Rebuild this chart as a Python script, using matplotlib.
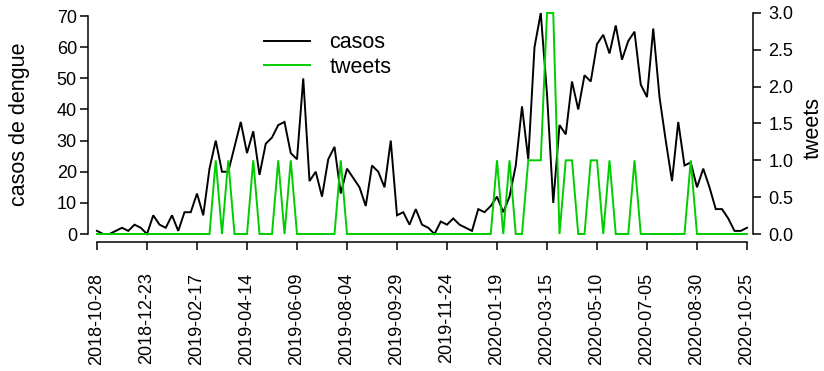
import matplotlib
matplotlib.use("Agg")
import matplotlib.pyplot as plt
from matplotlib.lines import Line2D

plt.rcParams['font.family'] = ['Liberation Sans', 'DejaVu Sans']

# weekly series starting 2018-10-28 (105 weeks)
casos = [1, 0, 0, 1, 2, 1, 3, 2, 0, 6,
         3, 2, 6, 1, 7, 7, 13, 6, 21, 30,
         20, 20, 28, 36, 26, 33, 19, 29, 31, 35,
         36, 26, 24, 50, 17, 20, 12, 24, 28, 13,
         21, 18, 15, 9, 22, 20, 15, 30, 6, 7,
         3, 8, 3, 2, 0, 4, 3, 5, 3, 2,
         1, 8, 7, 9, 12, 7, 12, 22, 41, 24,
         60, 71, 45, 10, 35, 32, 49, 40, 51, 49,
         61, 64, 58, 67, 56, 62, 65, 48, 44, 66,
         44, 30, 17, 36, 22, 23, 15, 21, 15, 8,
         8, 5, 1, 1, 2]
tweets = [0] * 105
tweet_weeks = [19, 21, 25, 29, 31, 39, 64, 66, 69, 70, 71, 72, 73, 75, 76, 79, 80, 82, 86, 95]
tweet_counts = [1, 1, 1, 1, 1, 1, 1, 1, 1, 1, 1, 3, 3, 1, 1, 1, 1, 1, 1, 1]
for w, c in zip(tweet_weeks, tweet_counts):
    tweets[w] = c

tick_weeks = list(range(0, 105, 8))
tick_labels = ["2018-10-28", "2018-12-23", "2019-02-17", "2019-04-14", "2019-06-09",
               "2019-08-04", "2019-09-29", "2019-11-24", "2020-01-19", "2020-03-15",
               "2020-05-10", "2020-07-05", "2020-08-30", "2020-10-25"]
left_ticks = [0, 10, 20, 30, 40, 50, 60, 70]
right_ticks = [0.0, 0.5, 1.0, 1.5, 2.0, 2.5, 3.0]

W, H = 824, 371
fig = plt.figure(figsize=(W / 100, H / 100), dpi=100)
ax = fig.add_axes([88 / W, (H - 242) / H, 665 / W, 237 / H])
ax2 = ax.twinx()

weeks = list(range(len(casos)))
GREEN = '#00CD00'
ax.plot(weeks, casos, color='black', lw=1.4, solid_joinstyle='miter')
ax2.plot(weeks, tweets, color=GREEN, lw=1.4, solid_joinstyle='miter')

ax.set_xlim(-1.44, 104.96)
ax.set_ylim(-8 / 3.113, 71 + 8 / 3.113)
ax2.set_ylim(-8 / 73.67, 3 + 8 / 73.67)

FS = 13
LFS = 15.5
for a in (ax, ax2):
    a.patch.set_visible(False)
    a.spines['top'].set_visible(False)
ax.spines['right'].set_visible(False)
for s in ('left', 'bottom'):
    ax2.spines[s].set_visible(False)

ax.spines['left'].set_bounds(0, 70)
ax.spines['bottom'].set_bounds(0, 104)
ax2.spines['right'].set_bounds(0, 3)
for sp in list(ax.spines.values()) + list(ax2.spines.values()):
    sp.set_linewidth(1.1)

ax.set_xticks(tick_weeks)
ax.set_xticklabels(tick_labels, rotation=90, fontsize=FS)
ax.set_yticks(left_ticks)
ax.set_yticklabels([str(v) for v in left_ticks], fontsize=FS)
ax2.set_yticks(right_ticks)
ax2.set_yticklabels([f"{v:.1f}" for v in right_ticks], fontsize=FS)

ax.tick_params(axis='x', length=6, width=1.1, pad=16)
ax.tick_params(axis='y', length=6, width=1.1, pad=2)
ax2.tick_params(axis='y', length=6, width=1.1, pad=5)

fig.text(20 / W, 1 - 124 / H, "casos de dengue", rotation=90, ha='center', va='center', fontsize=LFS)
fig.text(813 / W, 1 - 128 / H, "tweets", rotation=90, ha='center', va='center', fontsize=LFS)

handles = [Line2D([], [], color='black', lw=1.4), Line2D([], [], color=GREEN, lw=1.4)]
fig.legend(handles, ["casos", "tweets"], loc='upper left',
           bbox_to_anchor=(245 / W, 1 - 13 / H), bbox_transform=fig.transFigure,
           frameon=False, fontsize=LFS, handlelength=2.1, handletextpad=0.93,
           labelspacing=0.16, borderpad=0.4)

fig.savefig("out.png", dpi=100)
